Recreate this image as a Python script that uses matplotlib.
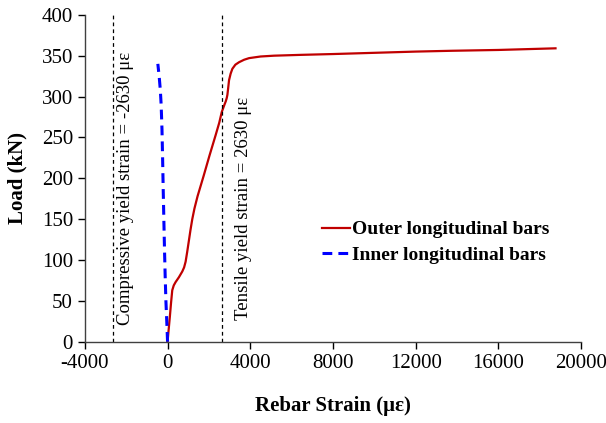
import matplotlib.pyplot as plt
import numpy as np

plt.rcParams['font.family'] = ['Liberation Serif', 'DejaVu Serif']
plt.rcParams['axes.unicode_minus'] = False

# outer bars
outer_strain = [0, 50, 112, 170, 227, 300, 388, 550, 712, 800, 873, 950, 1033, 1110,
                1195, 1300, 1450, 1745, 2030, 2327, 2500, 2620, 2750,
                2812, 2860, 2893, 2930, 2973, 3050, 3135, 3280, 3457, 3700, 3942,
                4500, 5154, 6450, 8000, 10000, 12000, 13750, 16000, 18760]
outer_load = [0, 14, 31, 48, 63, 69, 73, 79, 86, 91, 98, 110, 124, 137,
              150, 163, 178, 203, 228, 253, 268, 281, 290,
              294, 298, 302, 310, 320, 328, 334, 339, 342, 345, 347,
              349, 350, 351, 352, 353.5, 355, 356, 357, 359]

# inner bars
inner_strain = [0, -30, -80, -115, -145, -180, -210, -240, -270, -310, -350, -400, -470]
inner_load = [0, 20, 50, 80, 110, 150, 186, 225, 260, 290, 308, 323, 340]

yield_strain = 2630
x_ticks = [-4000, 0, 4000, 8000, 12000, 16000, 20000]
y_ticks = [0, 50, 100, 150, 200, 250, 300, 350, 400]

fig = plt.figure(figsize=(6.06, 4.23), dpi=100)
ax = fig.add_axes([0.140, 0.192, 0.819, 0.773])

ax.plot(outer_strain, outer_load, color='#C00000', lw=1.6, label='Outer longitudinal bars')
ax.plot(inner_strain, inner_load, color='#0000FF', lw=2.2, dashes=(3.2, 2.0),
        label='Inner longitudinal bars')

for xv in (-yield_strain, yield_strain):
    ax.plot([xv, xv], [0, 400], color='black', lw=0.9, dashes=(3, 2.5))

ax.text(-yield_strain + 590, 187, 'Compressive yield strain = -2630 με',
        rotation=90, ha='center', va='center', fontsize=13.5)
ax.text(yield_strain + 1020, 163, 'Tensile yield strain = 2630 με',
        rotation=90, ha='center', va='center', fontsize=13.5)

ax.set_xlim(-4000, 20000)
ax.set_ylim(0, 400)
ax.set_xticks(x_ticks)
ax.set_yticks(y_ticks)
ax.tick_params(labelsize=15, direction='out', length=5, width=1)
for s in ('top', 'right'):
    ax.spines[s].set_visible(False)
for s in ('left', 'bottom'):
    ax.spines[s].set_linewidth(1)
    ax.spines[s].set_color('#404040')

ax.set_xlabel('Rebar Strain (με)', fontsize=15, fontweight='bold', labelpad=17)
ax.set_ylabel('Load (kN)', fontsize=15, fontweight='bold', labelpad=10)

ax.legend(loc='upper left', bbox_to_anchor=(0.477, 0.37), frameon=False,
          prop={'weight': 'bold', 'size': 14}, handlelength=1.45, handletextpad=0.1,
          labelspacing=0.4, borderaxespad=0, borderpad=0)

fig.savefig('out.png', dpi=100)
